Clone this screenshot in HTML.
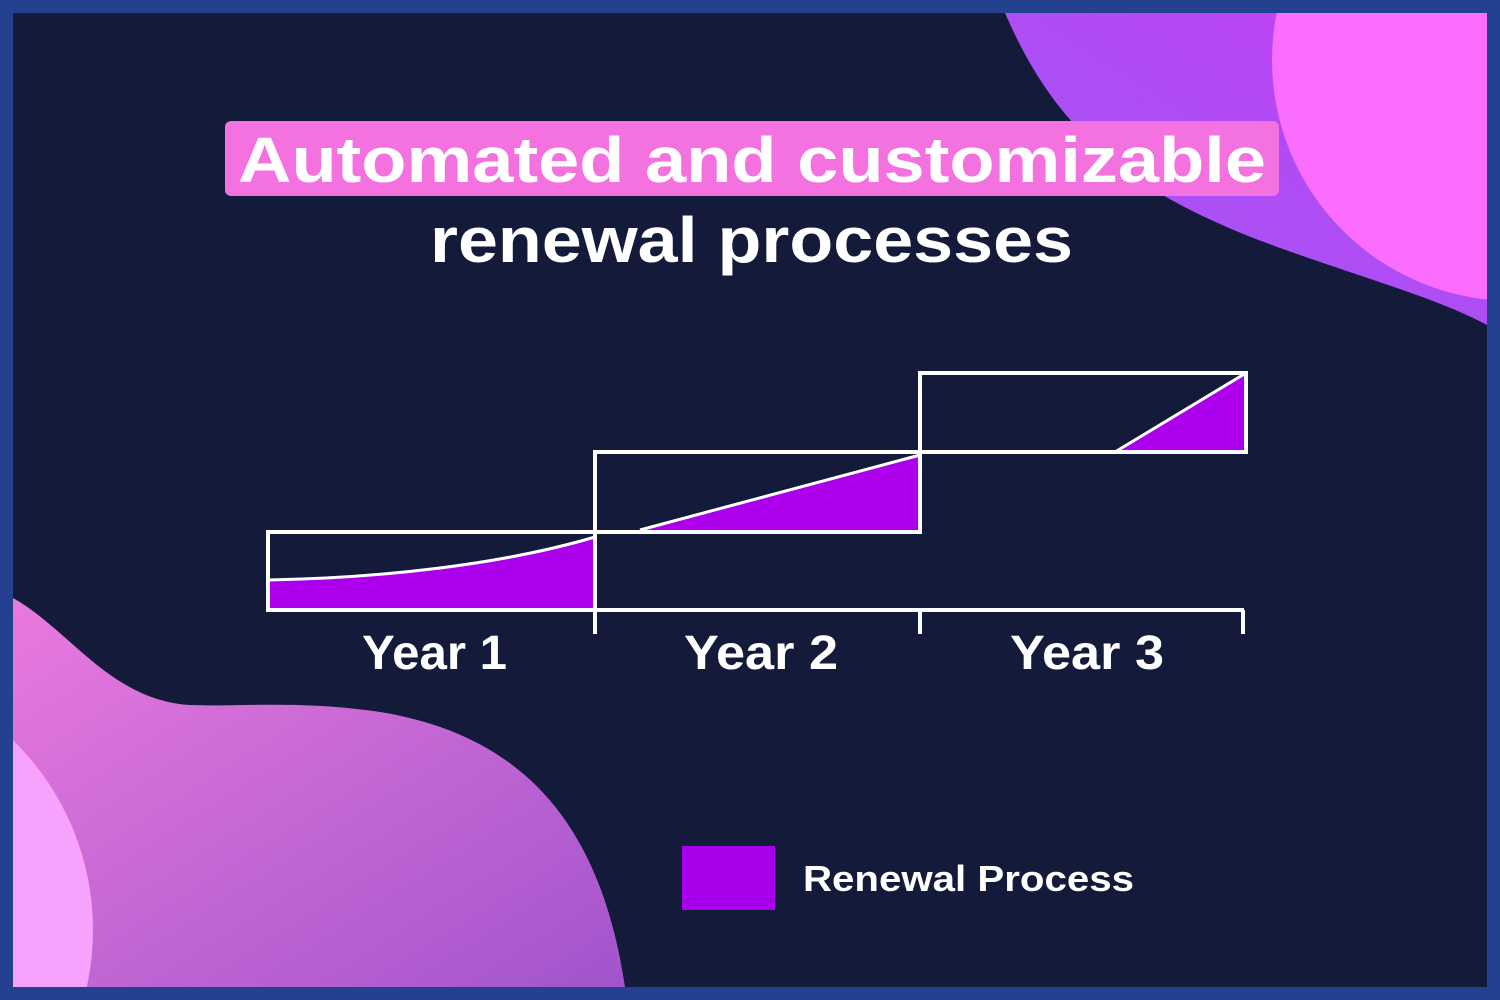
<!DOCTYPE html>
<html><head><meta charset="utf-8"><style>
html,body{margin:0;padding:0;width:1500px;height:1000px;overflow:hidden;background:#24418f}
svg{display:block}
</style></head><body>
<svg width="1500" height="1000" viewBox="0 0 1500 1000" xmlns="http://www.w3.org/2000/svg">
<defs>
<linearGradient id="g1" x1="0" y1="1" x2="1" y2="0">
<stop offset="0" stop-color="#9c5cf5"/><stop offset="1" stop-color="#c23ef3"/>
</linearGradient>
<linearGradient id="g2" x1="0" y1="0" x2="1" y2="1">
<stop offset="0" stop-color="#e97ade"/><stop offset="1" stop-color="#a254cc"/>
</linearGradient>
<clipPath id="c"><rect x="13" y="13" width="1474" height="974"/></clipPath>
</defs>
<rect x="13" y="13" width="1474" height="974" fill="#131a3a"/>
<g clip-path="url(#c)">
<path d="M1005,13 C1060,140 1140,200 1300,255 C1380,283 1440,300 1487,325 L1487,13 Z" fill="url(#g1)"/>
<circle cx="1513" cy="60" r="241" fill="#fb6dff"/>
<path d="M13,598 C70,630 110,700 190,705 C240,707 300,700 380,712 C520,735 600,820 625,987 L13,987 Z" fill="url(#g2)"/>
<circle cx="-172" cy="930" r="265" fill="#f7a2fc"/>
</g>
<rect x="225" y="121" width="1054" height="75" rx="6" fill="#f472e0"/>
<g font-family="Liberation Sans, sans-serif" font-weight="bold" fill="#fff">
<text x="238" y="182" font-size="64" textLength="1028" lengthAdjust="spacingAndGlyphs">Automated and customizable</text>
<text x="430" y="262" font-size="64" textLength="643" lengthAdjust="spacingAndGlyphs">renewal processes</text>
<text x="362" y="669" font-size="48" textLength="145" lengthAdjust="spacingAndGlyphs">Year 1</text>
<text x="684" y="669" font-size="48" textLength="154" lengthAdjust="spacingAndGlyphs">Year 2</text>
<text x="1010" y="669" font-size="48" textLength="154" lengthAdjust="spacingAndGlyphs">Year 3</text>
<text x="803" y="891" font-size="36" textLength="331" lengthAdjust="spacingAndGlyphs">Renewal Process</text>
</g>
<path d="M268,580 C380,578 500,565 595,537 L595,610 L268,610 Z" fill="#ac00ec"/>
<path d="M640,530 L920,455 L920,530 Z" fill="#ac00ec"/>
<path d="M1115,452 L1246,373 L1246,452 Z" fill="#ac00ec"/>
<g fill="none" stroke="#fff">
<path d="M268,580 C380,578 500,565 595,537" stroke-width="3"/>
<path d="M640,530 L920,455" stroke-width="3"/>
<path d="M1115,452 L1246,373" stroke-width="3"/>
<rect x="268" y="532" width="327" height="78" stroke-width="4"/>
<rect x="595" y="452" width="325" height="80" stroke-width="4"/>
<rect x="920" y="373" width="326" height="79" stroke-width="4"/>
<path d="M268,610 L1244,610 M595,610 V634 M920,610 V634 M1243,610 V634" stroke-width="4"/>
</g>
<rect x="682" y="846" width="93" height="64" fill="#a800ec"/>
</svg>
</body></html>
